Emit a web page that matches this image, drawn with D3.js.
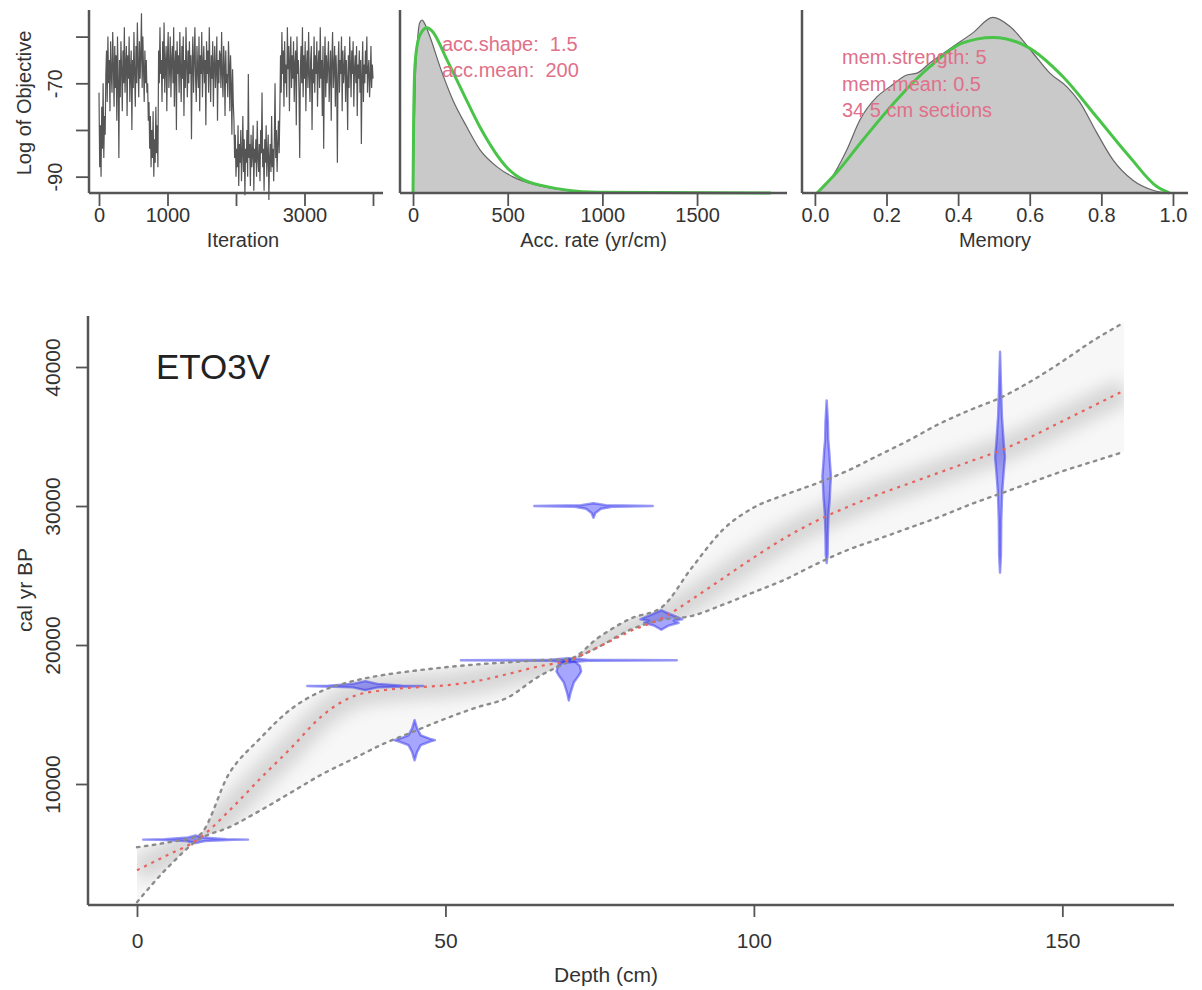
<!DOCTYPE html>
<html>
<head>
<meta charset="utf-8">
<script src="https://cdn.jsdelivr.net/npm/d3@7"></script>
<style>
body { margin: 0; background: #fff; }
text { font-family: "Liberation Sans", Arial, Helvetica, sans-serif; fill: #333; }
</style>
</head>
<body>
<div id="chart"></div>
<script>
// ---- MCMC trace (log of objective, one value every 10 iterations) ----
const traceStep = 10;
const traceValues = [
  -72,-88,-79,-90,-75,-84,-70,-86,-77,-81,-68,
  -63,-74,-60,-70,-65,-76,-61,-68,-72,-59,
  -66,-75,-62,-71,-64,-78,-60,-69,-86,-65,
  -73,-61,-67,-76,-63,-70,-58,-72,-66,-62,
  -77,-64,-69,-60,-74,-67,-63,-80,-65,-71,
  -59,-68,-75,-62,-70,-57,-66,-73,-61,-69,
  -64,-55,-71,-60,-67,-74,-63,-70,-65,-72,
  -70,-78,-74,-84,-77,-88,-80,-86,-76,-90,-82,-87,-75,-85,-79,-88,
  -63,-70,-58,-68,-65,-74,-61,-69,-57,-72,
  -66,-62,-76,-64,-59,-71,-67,-60,-73,-65,
  -62,-70,-58,-75,-66,-63,-80,-61,-68,-64,
  -72,-59,-67,-74,-62,-69,-60,-77,-65,-71,
  -58,-66,-73,-63,-70,-61,-68,-64,-82,-66,
  -60,-72,-65,-58,-69,-74,-62,-67,-71,-60,
  -76,-64,-68,-59,-73,-66,-62,-70,-65,-79,
  -61,-68,-63,-72,-58,-67,-74,-64,-69,-61,
  -75,-66,-62,-71,-67,-60,-78,-65,-70,-63,
  -64,-71,-59,-68,-73,-62,-66,-77,-63,-70,
  -68,-73,-61,-66,-76,-64,-70,-81,-67,-74,
  -78,-86,-81,-90,-84,-88,-79,-92,-83,-87,
  -80,-91,-85,-77,-89,-82,-94,-84,-87,-80,
  -90,-68,-86,-83,-92,-81,-88,-85,-79,-93,
  -84,-87,-82,-90,-78,-86,-89,-83,-91,-80,
  -85,-72,-88,-84,-93,-82,-87,-79,-90,-85,
  -81,-95,-86,-83,-89,-77,-88,-84,-91,-82,
  -70,-86,-80,-89,-83,-78,-85,-76,
  -64,-72,-59,-68,-63,-75,-61,-70,-66,-73,
  -58,-67,-62,-76,-65,-60,-71,-64,-69,-61,
  -74,-66,-63,-79,-60,-68,-65,-72,-86,-67,
  -62,-70,-58,-73,-64,-69,-61,-76,-66,-63,
  -71,-59,-68,-74,-65,-62,-80,-67,-70,-60,
  -72,-64,-68,-61,-75,-66,-63,-71,-58,-69,
  -65,-77,-62,-84,-67,-60,-73,-64,-70,-66,
  -61,-74,-68,-63,-78,-65,-59,-71,-67,-62,
  -75,-64,-69,-87,-66,-61,-72,-65,-68,-60,
  -76,-63,-70,-67,-62,-74,-65,-69,-80,-64,
  -71,-60,-66,-73,-63,-68,-61,-75,-67,-64,
  -70,-62,-77,-66,-69,-63,-72,-65,-83,-68,
  -61,-74,-66,-70,-63,-68,-60,-72,-67,-65,
  -73,-69,-62,-71,-66,-69
];

// ---- accumulation rate: posterior (grey) and prior (green) ----
const accPostX = [0, 5, 12, 22, 35, 48, 60, 90, 143, 211, 285, 354, 444, 528, 655, 792, 972, 1900];
const accPostY = [0, 0.0012, 0.0026, 0.0034, 0.0039, 0.00397, 0.0039, 0.00358, 0.00289, 0.00213, 0.00151, 0.00099, 0.0006, 0.00037, 0.00018, 0.00007, 0.00001, 0];
const accPriorX = [0, 3, 10, 27, 50, 74, 100, 180, 264, 354, 497, 671, 972, 1890];
const accPriorY = [0, 0.0015, 0.0029, 0.0035, 0.00372, 0.00379, 0.00372, 0.00305, 0.0023, 0.00151, 0.00058, 0.00018, 0.00002, 0];

// ---- memory: posterior (grey) and prior (green) ----
const memPostX = [0.006, 0.042, 0.089, 0.126, 0.173, 0.209, 0.257, 0.285, 0.321, 0.386, 0.441, 0.497, 0.545, 0.609, 0.656, 0.704, 0.740, 0.787, 0.833, 0.888, 0.944, 0.983];
const memPostY = [0, 0.14, 0.47, 0.80, 1.05, 1.16, 1.29, 1.31, 1.42, 1.60, 1.75, 1.92, 1.82, 1.53, 1.31, 1.16, 0.99, 0.66, 0.36, 0.14, 0.03, 0];
const memPriorX = [0.006, 0.06, 0.134, 0.229, 0.321, 0.413, 0.497, 0.592, 0.693, 0.787, 0.88, 0.955, 0.99];
const memPriorY = [0, 0.22, 0.58, 1.02, 1.38, 1.64, 1.70, 1.60, 1.27, 0.83, 0.39, 0.07, 0];

const accLabels = ["acc.shape:  1.5", "acc.mean:  200"];
const memLabels = ["mem.strength: 5", "mem.mean: 0.5", "34 5 cm sections"];

// ---- age-depth model ----
const depths    = [0, 5, 10, 15, 20, 25, 30, 35, 40, 45, 50, 55, 60, 65, 70, 75, 80, 85, 90, 95, 100, 105, 110, 115, 120, 125, 130, 135, 140, 145, 150, 155, 160];
const ageMedian = [3800, 4900, 6050, 8100, 10400, 12600, 14900, 16300, 16750, 16950, 17100, 17400, 17900, 18450, 18900, 19900, 21000, 21900, 23300, 24800, 26300, 27700, 28900, 29900, 30800, 31600, 32400, 33200, 34000, 35000, 36100, 37200, 38300];
const ageUpper  = [5450, 5800, 6300, 10800, 13300, 15400, 16700, 17400, 17850, 18150, 18400, 18600, 18750, 18900, 19000, 20600, 21900, 22700, 25600, 28300, 29900, 30800, 31600, 32500, 33600, 34700, 35900, 36900, 37800, 39000, 40400, 41900, 43200];
const ageLower  = [1500, 4000, 6000, 6900, 8100, 9400, 10700, 11800, 12900, 13800, 14700, 15500, 16200, 17700, 18800, 19900, 21100, 21800, 22100, 22900, 23800, 24700, 25800, 26800, 27600, 28400, 29200, 30100, 30900, 31700, 32500, 33200, 33900];

// calibrated dates: depth and profile [age, half-width in cm]
const dateDepths = [9.5, 37, 45, 70, 70, 74, 85, 111.8, 139.9];
const dateProfiles = [
  [[5750, 0], [5900, 1.5], [5980, 6], [6000, 8.5], [6030, 5], [6150, 1.2], [6300, 0]],
  [[16750, 0], [16950, 2], [17030, 8], [17050, 9.4], [17080, 6], [17200, 2], [17400, 0]],
  [[11700, 0], [12300, 0.4], [12800, 1.0], [13050, 2.5], [13150, 3.3], [13250, 2.5], [13500, 1.0], [14000, 0.4], [14600, 0]],
  [[18750, 0], [18860, 3], [18900, 17.5], [18940, 3], [19050, 0]],
  [[16000, 0], [16600, 0.3], [17300, 0.8], [17800, 1.6], [18100, 2.0], [18500, 1.8], [18800, 1.0], [19000, 0]],
  [[29150, 0], [29500, 0.3], [29800, 1.2], [29950, 3], [30000, 9.6], [30060, 2], [30200, 0]],
  [[21100, 0], [21400, 1.2], [21600, 2.8], [21750, 2.0], [21850, 3.4], [22000, 2.6], [22200, 1.5], [22500, 0]],
  [[25900, 0], [26500, 0.15], [28000, 0.2], [29500, 0.3], [30500, 0.5], [31500, 0.6], [32100, 0.7], [33000, 0.55], [34000, 0.4], [34800, 0.25], [36000, 0.2], [37600, 0]],
  [[25200, 0], [26500, 0.15], [29000, 0.2], [31000, 0.35], [32500, 0.6], [33500, 0.8], [34500, 0.6], [35500, 0.45], [36500, 0.3], [38000, 0.2], [41100, 0]]
];

const coreName = "ETO3V";

// ---------------------------------------------------------------
const W = 1202, H = 990;
const axisCol = "#555";
const svg = d3.select("#chart").append("svg").attr("width", W).attr("height", H);

const defs = svg.append("defs");
defs.append("filter").attr("id", "blur").attr("x", "-20%").attr("y", "-20%").attr("width", "140%").attr("height", "140%")
  .append("feGaussianBlur").attr("stdDeviation", 8);

function drawAxes(g, x, y, box, xTicks, xShown, yTicks, yShown, xTitle, yTitle, opts) {
  const fs = opts.fs;
  // L-shaped frame
  g.append("line").attr("x1", box.l).attr("x2", box.r).attr("y1", box.b).attr("y2", box.b)
    .attr("stroke", axisCol).attr("stroke-width", 2.5);
  g.append("line").attr("x1", box.l).attr("x2", box.l).attr("y1", box.t).attr("y2", box.b)
    .attr("stroke", axisCol).attr("stroke-width", 2.5);

  const xa = g.append("g").attr("transform", "translate(0," + box.b + ")")
    .call(d3.axisBottom(x).tickValues(xTicks).tickSize(opts.tick).tickPadding(opts.xPad)
      .tickFormat(d => xShown.includes(d) ? opts.xFmt(d) : ""));
  xa.select(".domain").remove();
  xa.selectAll("line").attr("stroke", axisCol).attr("stroke-width", 1.8);
  xa.selectAll("text").attr("font-size", fs).style("fill", "#333");

  if (yTicks) {
    const ya = g.append("g").attr("transform", "translate(" + box.l + ",0)")
      .call(d3.axisLeft(y).tickValues(yTicks).tickSize(opts.tick)
        .tickFormat(d => yShown.includes(d) ? String(d) : ""));
    ya.select(".domain").remove();
    ya.selectAll("line").attr("stroke", axisCol).attr("stroke-width", 1.8);
    ya.selectAll("text").attr("font-size", fs).style("fill", "#333")
      .attr("transform", "rotate(-90)").attr("x", 0).attr("y", -opts.yPad).attr("dy", 0)
      .style("text-anchor", "middle");
  }

  g.append("text").attr("x", (box.l + box.r) / 2 + (opts.xTitleShift || 0)).attr("y", opts.xTitleY)
    .attr("text-anchor", "middle").attr("font-size", fs).text(xTitle);
  if (yTitle) {
    g.append("text").attr("transform", "translate(" + opts.yTitleX + "," + opts.yTitleY + ") rotate(-90)")
      .attr("text-anchor", "middle").attr("font-size", fs).text(yTitle);
  }
}

const topOpts = {fs: 20, tick: 13, xPad: 2, xTitleY: 247};

// ---------- panel 1: trace ----------
{
  const box = {l: 89, r: 383, t: 10, b: 193};
  const x = d3.scaleLinear().domain([-146, 4146]).range([box.l, box.r]);
  const y = d3.scaleLinear().domain([-93.5, -54.3]).range([box.b, box.t]);
  const g = svg.append("g");
  g.append("path")
    .attr("d", d3.line().x((d, i) => x(i * traceStep)).y(d => y(d))(traceValues))
    .attr("fill", "none").attr("stroke", "#555").attr("stroke-width", 1.2);
  drawAxes(g, x, y, box, [0, 1000, 2000, 3000, 4000], [0, 1000, 3000], [-60, -70, -80, -90], [-70, -90],
    "Iteration", "Log of Objective",
    Object.assign({}, topOpts, {yPad: 27, xFmt: d => String(d), yTitleX: 31, yTitleY: 103, xTitleShift: 7}));
}

// ---------- panel 2: accumulation rate ----------
{
  const box = {l: 400, r: 787, t: 10, b: 193};
  const x = d3.scaleLinear().domain([-68.7, 1975]).range([box.l, box.r]);
  const y = d3.scaleLinear().domain([0, 0.0042]).range([box.b, box.t]);
  const g = svg.append("g");
  const post = accPostX.map((v, i) => [v, accPostY[i]]);
  const prior = accPriorX.map((v, i) => [v, accPriorY[i]]);
  g.append("path")
    .attr("d", d3.area().x(d => x(d[0])).y0(y(0)).y1(d => y(d[1])).curve(d3.curveMonotoneX)(post))
    .attr("fill", "#c9c9c9").attr("stroke", "#666").attr("stroke-width", 1.2);
  g.append("path")
    .attr("d", d3.line().x(d => x(d[0])).y(d => y(d[1])).curve(d3.curveMonotoneX)(prior))
    .attr("fill", "none").attr("stroke", "#49c449").attr("stroke-width", 3);
  accLabels.forEach((t, i) => {
    g.append("text").attr("x", 442).attr("y", 51 + i * 26).attr("font-size", 20)
      .style("fill", "#e07089").style("white-space", "pre").text(t);
  });
  drawAxes(g, x, y, box, [0, 500, 1000, 1500], [0, 500, 1000, 1500], null, null,
    "Acc. rate (yr/cm)", null,
    Object.assign({}, topOpts, {xFmt: d => String(d)}));
}

// ---------- panel 3: memory ----------
{
  const box = {l: 802, r: 1188, t: 10, b: 193};
  const x = d3.scaleLinear().domain([-0.036, 1.042]).range([box.l, box.r]);
  const y = d3.scaleLinear().domain([0, 2.0]).range([box.b, box.t]);
  const g = svg.append("g");
  const post = memPostX.map((v, i) => [v, memPostY[i]]);
  const prior = memPriorX.map((v, i) => [v, memPriorY[i]]);
  g.append("path")
    .attr("d", d3.area().x(d => x(d[0])).y0(y(0)).y1(d => y(d[1])).curve(d3.curveMonotoneX)(post))
    .attr("fill", "#c9c9c9").attr("stroke", "#666").attr("stroke-width", 1.2);
  g.append("path")
    .attr("d", d3.line().x(d => x(d[0])).y(d => y(d[1])).curve(d3.curveMonotoneX)(prior))
    .attr("fill", "none").attr("stroke", "#49c449").attr("stroke-width", 3);
  memLabels.forEach((t, i) => {
    g.append("text").attr("x", 842).attr("y", 64 + i * 26.5).attr("font-size", 20)
      .style("fill", "#e07089").style("white-space", "pre").text(t);
  });
  drawAxes(g, x, y, box, [0, 0.2, 0.4, 0.6, 0.8, 1.0], [0, 0.2, 0.4, 0.6, 0.8, 1.0], null, null,
    "Memory", null,
    Object.assign({}, topOpts, {xFmt: d3.format(".1f")}));
}

// ---------- main panel: age-depth model ----------
{
  const box = {l: 88, r: 1174, t: 316, b: 905};
  const x = d3.scaleLinear().domain([-7.94, 168.1]).range([box.l, box.r]);
  const y = d3.scaleLinear().domain([1295, 43670]).range([box.b, box.t]);
  const g = svg.append("g");

  const band = depths.map((d, i) => ({d: d, lo: ageLower[i], hi: ageUpper[i], med: ageMedian[i]}));
  const bandArea = d3.area().x(d => x(d.d)).y0(d => y(d.lo)).y1(d => y(d.hi)).curve(d3.curveMonotoneX);
  defs.append("clipPath").attr("id", "bandClip").append("path").attr("d", bandArea(band));

  g.append("path").attr("d", bandArea(band)).attr("fill", "#f7f7f7");
  g.append("g").attr("clip-path", "url(#bandClip)")
    .append("path")
    .attr("d", d3.line().x(d => x(d.d)).y(d => y(d.med)).curve(d3.curveMonotoneX)(band))
    .attr("fill", "none").attr("stroke", "#d6d6d6").attr("stroke-width", 26)
    .attr("filter", "url(#blur)");

  // calibrated dates
  const dateLine = d3.line().x(d => x(d[0])).y(d => y(d[1])).curve(d3.curveLinearClosed);
  dateProfiles.forEach((prof, i) => {
    const dep = dateDepths[i];
    const pts = prof.map(p => [dep + p[1], p[0]])
      .concat(prof.slice().reverse().map(p => [dep - p[1], p[0]]));
    g.append("path").attr("d", dateLine(pts))
      .attr("fill", "rgba(0,0,255,0.35)").attr("stroke", "rgba(50,50,235,0.5)").attr("stroke-width", 2.4)
      .attr("stroke-linejoin", "round");
  });

  const ageLine = key => d3.line().x(d => x(d.d)).y(d => y(d[key])).curve(d3.curveMonotoneX);
  ["lo", "hi"].forEach(k => {
    g.append("path").attr("d", ageLine(k)(band))
      .attr("fill", "none").attr("stroke", "#8c8c8c").attr("stroke-width", 2.4)
      .attr("stroke-dasharray", "2.5,5.5").attr("stroke-linecap", "round");
  });
  g.append("path").attr("d", ageLine("med")(band))
    .attr("fill", "none").attr("stroke", "#e8625e").attr("stroke-width", 2.2)
    .attr("stroke-dasharray", "3,5");

  g.append("text").attr("x", 156).attr("y", 379).attr("font-size", 35).style("fill", "#222").text(coreName);

  drawAxes(g, x, y, box, [0, 50, 100, 150], [0, 50, 100, 150], [10000, 20000, 30000, 40000], [10000, 20000, 30000, 40000],
    "Depth (cm)", "cal yr BP",
    {fs: 21, tick: 12, xPad: 16, yPad: 28, xFmt: d => String(d), xTitleY: 982, yTitleX: 32, yTitleY: 590, xTitleShift: -25});
}
</script>
</body>
</html>
